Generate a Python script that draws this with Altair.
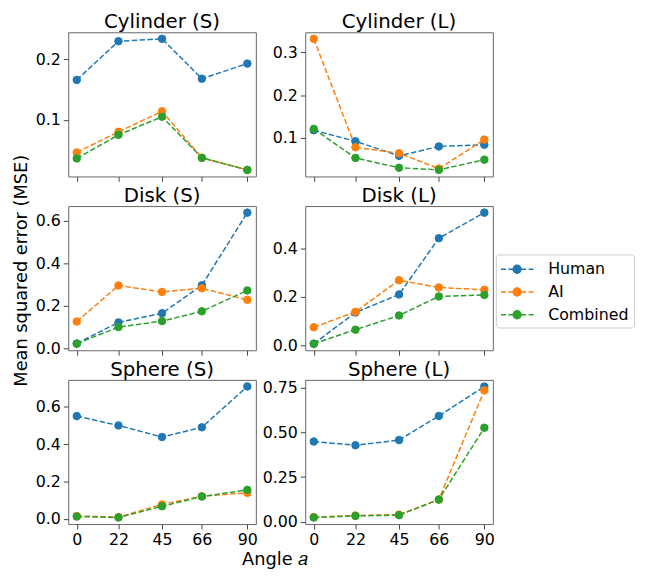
import altair as alt
import pandas as pd

angles = [0, 22, 45, 66, 90]
series = ["Human", "AI", "Combined"]
colors = ["#1f77b4", "#ff7f0e", "#2ca02c"]
panel_titles = ["Cylinder (S)", "Cylinder (L)", "Disk (S)", "Disk (L)", "Sphere (S)", "Sphere (L)"]

cyl_s_human = [0.166, 0.230, 0.234, 0.168, 0.193]
cyl_s_ai = [0.046, 0.080, 0.114, 0.037, 0.017]
cyl_s_comb = [0.036, 0.075, 0.105, 0.037, 0.017]

cyl_l_human = [0.118, 0.092, 0.058, 0.080, 0.084]
cyl_l_ai = [0.332, 0.078, 0.064, 0.028, 0.096]
cyl_l_comb = [0.121, 0.053, 0.030, 0.025, 0.049]

disk_s_human = [0.023, 0.122, 0.165, 0.296, 0.637]
disk_s_ai = [0.126, 0.295, 0.265, 0.282, 0.228]
disk_s_comb = [0.022, 0.100, 0.128, 0.174, 0.272]

disk_l_human = [0.006, 0.135, 0.210, 0.443, 0.549]
disk_l_ai = [0.074, 0.138, 0.269, 0.239, 0.229]
disk_l_comb = [0.006, 0.064, 0.123, 0.202, 0.208]

sph_s_human = [0.551, 0.501, 0.439, 0.491, 0.710]
sph_s_ai = [0.016, 0.010, 0.078, 0.122, 0.140]
sph_s_comb = [0.013, 0.008, 0.068, 0.120, 0.156]

sph_l_human = [0.449, 0.428, 0.457, 0.592, 0.757]
sph_l_ai = [0.026, 0.035, 0.040, 0.125, 0.735]
sph_l_comb = [0.024, 0.033, 0.037, 0.124, 0.526]

panel_values = [
    (cyl_s_human, cyl_s_ai, cyl_s_comb),
    (cyl_l_human, cyl_l_ai, cyl_l_comb),
    (disk_s_human, disk_s_ai, disk_s_comb),
    (disk_l_human, disk_l_ai, disk_l_comb),
    (sph_s_human, sph_s_ai, sph_s_comb),
    (sph_l_human, sph_l_ai, sph_l_comb),
]

y_ticks = [
    [0.1, 0.2],
    [0.1, 0.2, 0.3],
    [0.0, 0.2, 0.4, 0.6],
    [0.0, 0.2, 0.4],
    [0.0, 0.2, 0.4, 0.6],
    [0.0, 0.25, 0.5, 0.75],
]
y_formats = [".1f", ".1f", ".1f", ".1f", ".1f", ".2f"]

FONT = "DejaVu Sans"

legend_path = (
    "M-1.083,0H-0.528M-0.25,0H0.306M1.195,0H1.75M2.028,0H2.583"
    "M1.172,0A0.444,0.444 0 1,1 0.284,0A0.444,0.444 0 1,1 1.172,0Z"
)

color_scale = alt.Scale(domain=series, range=colors)
legend = alt.Legend(title=None, orient="none", legendX=433, legendY=225)


def panel(i):
    vals = panel_values[i]
    rows = []
    for s, arr in zip(series, vals):
        for a, v in zip(angles, arr):
            rows.append({"angle": a, "mse": v, "series": s})
    df = pd.DataFrame(rows)
    allv = [v for arr in vals for v in arr]
    lo, hi = min(allv), max(allv)
    m = 0.05 * (hi - lo)
    row = i // 2
    col = i % 2

    if row == 2 and col == 0:
        x_axis = alt.Axis(values=angles, labels=True, format="d", title="Angle 𝑎",
                          titleX=209, titleAlign="center", titlePadding=3)
    elif row == 2:
        x_axis = alt.Axis(values=angles, labels=True, format="d", title=None)
    else:
        x_axis = alt.Axis(values=angles, labels=False, title=None)

    y_axis = alt.Axis(values=y_ticks[i], format=y_formats[i], title=None)

    base = alt.Chart(df).encode(
        x=alt.X("angle:Q", scale=alt.Scale(domain=[-4.5, 94.5], nice=False, zero=False), axis=x_axis),
        y=alt.Y("mse:Q", scale=alt.Scale(domain=[lo - m, hi + m], nice=False, zero=False), axis=y_axis),
    )
    line = base.mark_line(strokeWidth=1.5, strokeDash=[5.5, 2.4]).encode(
        stroke=alt.Stroke("series:N", scale=color_scale, legend=legend),
    )
    pts = base.mark_circle(size=58, opacity=1, strokeWidth=1).encode(
        fill=alt.Fill("series:N", scale=color_scale, legend=legend),
        stroke=alt.Stroke("series:N", scale=color_scale, legend=legend),
    )
    return alt.layer(line, pts).properties(
        width=190, height=146,
        title=alt.TitleParams(panel_titles[i], fontSize=20, font=FONT,
                              fontWeight="normal", color="black", offset=0),
    )


chart = alt.concat(
    *[panel(i) for i in range(6)], columns=2, spacing={"row": 30, "column": 50}, bounds="flush"
).properties(
    padding={"left": 5, "top": 0, "right": 5, "bottom": 2},
    title=alt.TitleParams("Mean squared error (MSE)", orient="left", anchor="middle",
                          fontSize=18, font=FONT, fontWeight="normal", color="black",
                          offset=4, dx=20),
).configure_view(
    stroke="#666", strokeWidth=1
).configure_axis(
    domain=False, grid=False, labelFont=FONT, labelFontSize=16, labelColor="black",
    tickColor="#444", tickSize=5, tickWidth=1, labelPadding=3,
    titleFont=FONT, titleFontSize=18, titleFontWeight="normal", titleColor="black",
).configure_legend(
    symbolType=legend_path, symbolSize=324, symbolStrokeWidth=1.5,
    labelFont=FONT, labelFontSize=16, labelColor="black", labelOffset=28,
    padding=5, rowPadding=5, strokeColor="#cccccc", cornerRadius=3, fillColor="white",
)

chart.save("out.html", embed_options={"renderer": "svg", "actions": False})
